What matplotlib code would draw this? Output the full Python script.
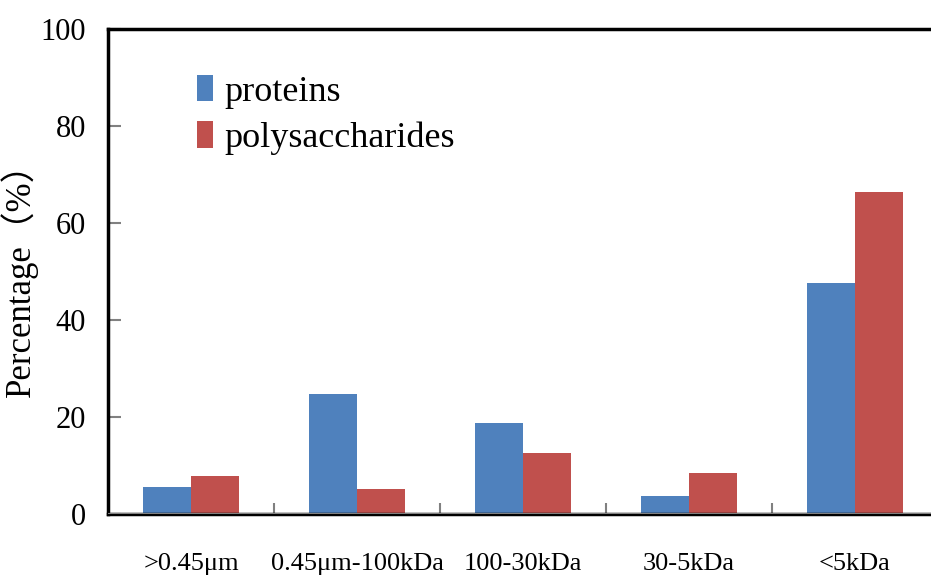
import numpy as np
import matplotlib
matplotlib.use("Agg")
import matplotlib.pyplot as plt

## Data
categories = [">0.45\u03bcm", "0.45\u03bcm-100kDa", "100-30kDa", "30-5kDa", "<5kDa"]
proteins = [5.6, 24.7, 18.8, 3.7, 47.6]
polysaccharides = [7.8, 5.2, 12.6, 8.5, 66.4]

blue = "#4F81BD"
red = "#C0504D"
serif = ["Liberation Serif", "Noto Sans CJK SC"]

plt.rcParams["font.family"] = serif

fig = plt.figure(figsize=(9.31, 5.79), dpi=100)
ax = fig.add_axes([108 / 931, 65 / 579, 830 / 931, 485 / 579])

x = np.arange(len(categories))
w = 0.29
ax.bar(x - w / 2, proteins, w, color=blue, label="proteins")
ax.bar(x + w / 2, polysaccharides, w, color=red, label="polysaccharides")
ax.axhline(0, color="#808080", lw=1.5, zorder=3)

ax.set_xlim(-0.5, len(categories) - 0.5)
ax.set_ylim(0, 100)
ax.set_yticks(np.arange(0, 101, 20))
ax.set_xticks(x)
ax.set_xticklabels(categories, fontsize=19)
ax.set_xticks(np.arange(0.5, len(categories) - 0.5, 1), minor=True)

ax.tick_params(axis="x", which="major", length=0, pad=28)
ax.tick_params(axis="x", which="minor", direction="in", length=8, width=1.5, color="#808080")
ax.tick_params(axis="y", direction="in", length=9, width=1.5, color="#808080", labelsize=22, pad=16)

for side in ["top", "left", "bottom"]:
    ax.spines[side].set_linewidth(2.5)
    ax.spines[side].set_color("black")
ax.spines["right"].set_visible(False)

ax.set_ylabel("Percentage\uff08%\uff09", fontsize=25, family=serif, labelpad=2)

ax.legend(loc="upper left", bbox_to_anchor=(0.09, 0.935), frameon=False,
          prop={"family": serif, "size": 26}, handlelength=0.45, handleheight=0.75,
          handletextpad=0.3, labelspacing=0.35, borderaxespad=0)

fig.savefig("out.png", dpi=100)
